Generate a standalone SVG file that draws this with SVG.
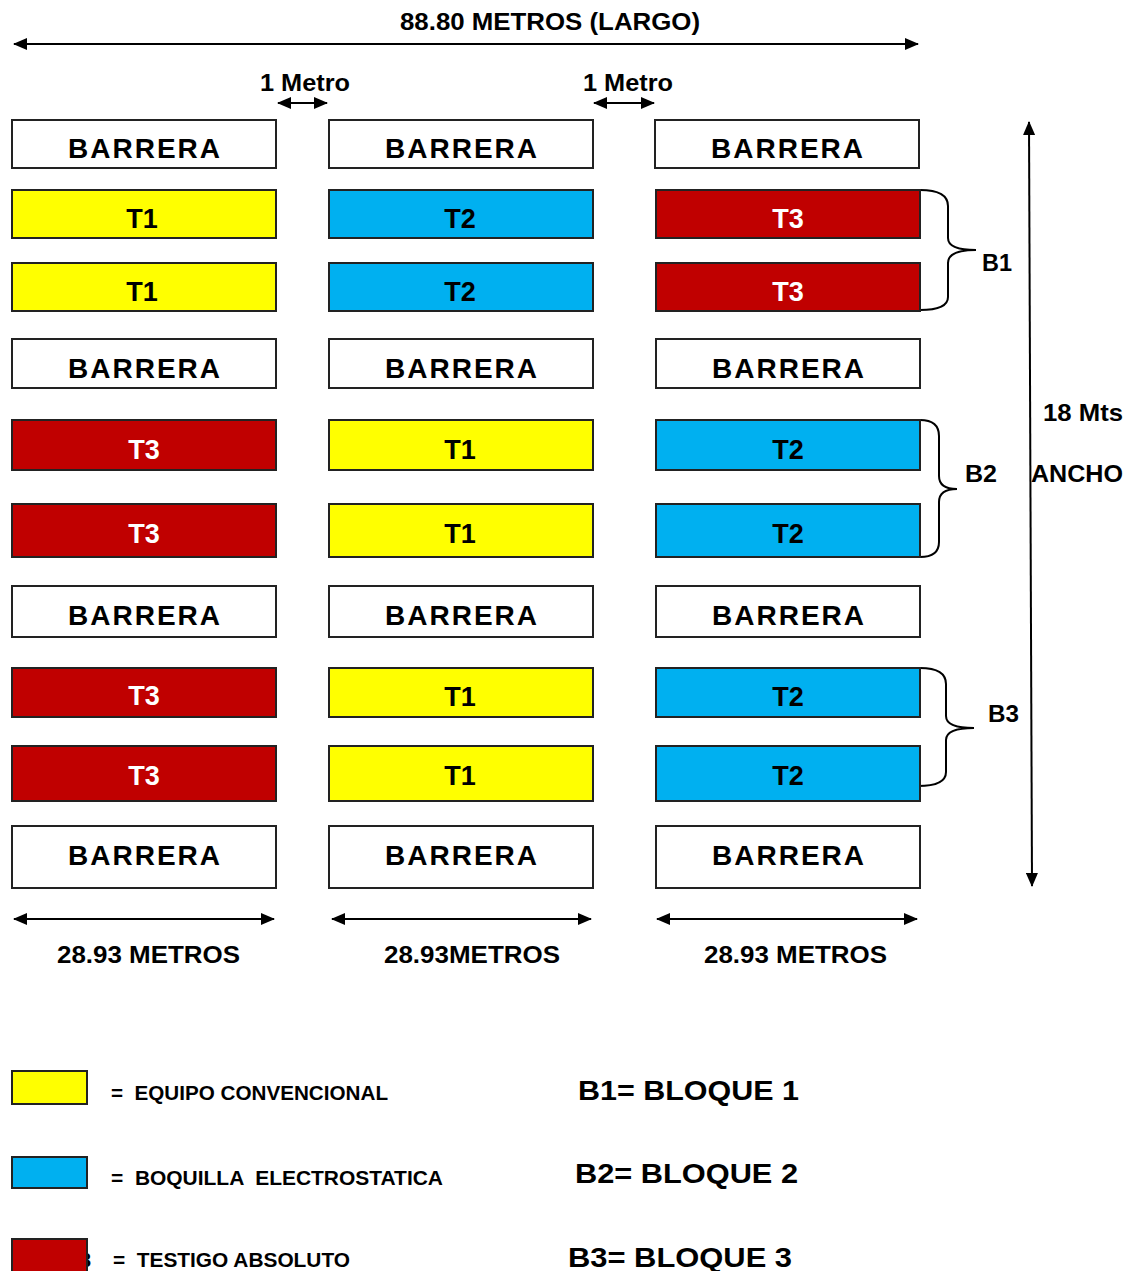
<svg xmlns="http://www.w3.org/2000/svg" width="1132" height="1271" viewBox="0 0 1132 1271">
<defs>
<marker id="ah" viewBox="0 0 14 12" refX="13" refY="6" markerWidth="14" markerHeight="12" markerUnits="userSpaceOnUse" orient="auto-start-reverse">
<path d="M0,0 L14,6 L0,12 Z" fill="#000"/>
</marker>
<style>
text{font-family:"Liberation Sans",Arial,sans-serif;font-weight:bold;fill:#000}
.bx{stroke:#222;stroke-width:2}
.bar{fill:#fff}
.y{fill:#FFFF00}
.b{fill:#00B0F0}
.r{fill:#C00000}
.bt{font-size:28px;letter-spacing:2px;text-anchor:middle}
.tt{font-size:27px;text-anchor:middle}
.w{fill:#fff}
.lbl{font-size:24px}
.ln{stroke:#000;stroke-width:2;fill:none}
.br{stroke:#000;stroke-width:2;fill:none}
.lg{font-size:20px}
.bq{font-size:28px}
</style>
</defs>

<g id="connectors">
<line class="ln" x1="14" y1="44" x2="918" y2="44" marker-start="url(#ah)" marker-end="url(#ah)"/>
<line class="ln" x1="278" y1="103" x2="327" y2="103" marker-start="url(#ah)" marker-end="url(#ah)"/>
<line class="ln" x1="594" y1="103" x2="654" y2="103" marker-start="url(#ah)" marker-end="url(#ah)"/>
<line class="ln" x1="1029" y1="122" x2="1032" y2="886" marker-start="url(#ah)" marker-end="url(#ah)"/>
<line class="ln" x1="14" y1="919" x2="274" y2="919" marker-start="url(#ah)" marker-end="url(#ah)"/>
<line class="ln" x1="332" y1="919" x2="591" y2="919" marker-start="url(#ah)" marker-end="url(#ah)"/>
<line class="ln" x1="657" y1="919" x2="917" y2="919" marker-start="url(#ah)" marker-end="url(#ah)"/>
<path class="br" d="M920,190 Q948,190 948,206 L948,238 Q948,250 976,250 Q948,250 948,263 L948,297 Q948,310 920,310"/>
<path class="br" d="M920,420 Q939,420 939,436 L939,476 Q939,489 957,489 Q939,489 939,502 L939,542 Q939,557 920,557"/>
<path class="br" d="M920,668 Q946,668 946,684 L946,716 Q946,728 974,728 Q946,728 946,740 L946,772 Q946,786 918,786"/>
</g>

<g id="dim-labels">
<text class="lbl" x="550" y="30" text-anchor="middle" textLength="300" lengthAdjust="spacingAndGlyphs">88.80 METROS (LARGO)</text>
<text class="lbl" x="260" y="91" textLength="90" lengthAdjust="spacingAndGlyphs">1 Metro</text>
<text class="lbl" x="583" y="91" textLength="90" lengthAdjust="spacingAndGlyphs">1 Metro</text>
<text class="lbl" x="982" y="271" textLength="30" lengthAdjust="spacingAndGlyphs">B1</text>
<text class="lbl" x="965" y="482" textLength="32" lengthAdjust="spacingAndGlyphs">B2</text>
<text class="lbl" x="988" y="722" textLength="31" lengthAdjust="spacingAndGlyphs">B3</text>
<text class="lbl" x="1043" y="421" textLength="80" lengthAdjust="spacingAndGlyphs">18 Mts</text>
<text class="lbl" x="1031" y="482" textLength="92" lengthAdjust="spacingAndGlyphs">ANCHO</text>
<text class="lbl" x="57" y="963" textLength="183" lengthAdjust="spacingAndGlyphs">28.93 METROS</text>
<text class="lbl" x="384" y="963" textLength="176" lengthAdjust="spacingAndGlyphs">28.93METROS</text>
<text class="lbl" x="704" y="963" textLength="183" lengthAdjust="spacingAndGlyphs">28.93 METROS</text>
</g>

<!-- Row 1 -->
<g id="r1c1"><rect class="bx bar" x="12" y="120" width="264" height="48"/><text class="bt" x="145" y="158">BARRERA</text></g>
<g id="r1c2"><rect class="bx bar" x="329" y="120" width="264" height="48"/><text class="bt" x="462" y="158">BARRERA</text></g>
<g id="r1c3"><rect class="bx bar" x="655" y="120" width="264" height="48"/><text class="bt" x="788" y="158">BARRERA</text></g>
<!-- Row 2 -->
<g id="r2c1"><rect class="bx y" x="12" y="190" width="264" height="48"/><text class="tt" x="142" y="228">T1</text></g>
<g id="r2c2"><rect class="bx b" x="329" y="190" width="264" height="48"/><text class="tt" x="460" y="228">T2</text></g>
<g id="r2c3"><rect class="bx r" x="656" y="190" width="264" height="48"/><text class="tt w" x="788" y="228">T3</text></g>
<!-- Row 3 -->
<g id="r3c1"><rect class="bx y" x="12" y="263" width="264" height="48"/><text class="tt" x="142" y="301">T1</text></g>
<g id="r3c2"><rect class="bx b" x="329" y="263" width="264" height="48"/><text class="tt" x="460" y="301">T2</text></g>
<g id="r3c3"><rect class="bx r" x="656" y="263" width="264" height="48"/><text class="tt w" x="788" y="301">T3</text></g>
<!-- Row 4 -->
<g id="r4c1"><rect class="bx bar" x="12" y="339" width="264" height="49"/><text class="bt" x="145" y="378">BARRERA</text></g>
<g id="r4c2"><rect class="bx bar" x="329" y="339" width="264" height="49"/><text class="bt" x="462" y="378">BARRERA</text></g>
<g id="r4c3"><rect class="bx bar" x="656" y="339" width="264" height="49"/><text class="bt" x="789" y="378">BARRERA</text></g>
<!-- Row 5 -->
<g id="r5c1"><rect class="bx r" x="12" y="420" width="264" height="50"/><text class="tt w" x="144" y="459">T3</text></g>
<g id="r5c2"><rect class="bx y" x="329" y="420" width="264" height="50"/><text class="tt" x="460" y="459">T1</text></g>
<g id="r5c3"><rect class="bx b" x="656" y="420" width="264" height="50"/><text class="tt" x="788" y="459">T2</text></g>
<!-- Row 6 -->
<g id="r6c1"><rect class="bx r" x="12" y="504" width="264" height="53"/><text class="tt w" x="144" y="543">T3</text></g>
<g id="r6c2"><rect class="bx y" x="329" y="504" width="264" height="53"/><text class="tt" x="460" y="543">T1</text></g>
<g id="r6c3"><rect class="bx b" x="656" y="504" width="264" height="53"/><text class="tt" x="788" y="543">T2</text></g>
<!-- Row 7 -->
<g id="r7c1"><rect class="bx bar" x="12" y="586" width="264" height="51"/><text class="bt" x="145" y="625">BARRERA</text></g>
<g id="r7c2"><rect class="bx bar" x="329" y="586" width="264" height="51"/><text class="bt" x="462" y="625">BARRERA</text></g>
<g id="r7c3"><rect class="bx bar" x="656" y="586" width="264" height="51"/><text class="bt" x="789" y="625">BARRERA</text></g>
<!-- Row 8 -->
<g id="r8c1"><rect class="bx r" x="12" y="668" width="264" height="49"/><text class="tt w" x="144" y="705">T3</text></g>
<g id="r8c2"><rect class="bx y" x="329" y="668" width="264" height="49"/><text class="tt" x="460" y="706">T1</text></g>
<g id="r8c3"><rect class="bx b" x="656" y="668" width="264" height="49"/><text class="tt" x="788" y="706">T2</text></g>
<!-- Row 9 -->
<g id="r9c1"><rect class="bx r" x="12" y="746" width="264" height="55"/><text class="tt w" x="144" y="785">T3</text></g>
<g id="r9c2"><rect class="bx y" x="329" y="746" width="264" height="55"/><text class="tt" x="460" y="785">T1</text></g>
<g id="r9c3"><rect class="bx b" x="656" y="746" width="264" height="55"/><text class="tt" x="788" y="785">T2</text></g>
<!-- Row 10 -->
<g id="r10c1"><rect class="bx bar" x="12" y="826" width="264" height="62"/><text class="bt" x="145" y="865">BARRERA</text></g>
<g id="r10c2"><rect class="bx bar" x="329" y="826" width="264" height="62"/><text class="bt" x="462" y="865">BARRERA</text></g>
<g id="r10c3"><rect class="bx bar" x="656" y="826" width="264" height="62"/><text class="bt" x="789" y="865">BARRERA</text></g>

<g id="legend">
<rect class="bx y" x="12" y="1071" width="75" height="33"/>
<text class="lg" x="111" y="1100" textLength="277" lengthAdjust="spacingAndGlyphs" xml:space="preserve">=  EQUIPO CONVENCIONAL</text>
<rect class="bx b" x="12" y="1157" width="75" height="31"/>
<text class="lg" x="111" y="1185" textLength="332" lengthAdjust="spacingAndGlyphs" xml:space="preserve">=  BOQUILLA  ELECTROSTATICA</text>
<text class="lg" x="80" y="1267">3</text>
<rect class="bx r" x="12" y="1239" width="75" height="40"/>
<text class="lg" x="113" y="1267" textLength="237" lengthAdjust="spacingAndGlyphs" xml:space="preserve">=  TESTIGO ABSOLUTO</text>
<text class="bq" x="578" y="1100" textLength="221" lengthAdjust="spacingAndGlyphs">B1= BLOQUE 1</text>
<text class="bq" x="575" y="1183" textLength="223" lengthAdjust="spacingAndGlyphs">B2= BLOQUE 2</text>
<text class="bq" x="568" y="1267" textLength="224" lengthAdjust="spacingAndGlyphs">B3= BLOQUE 3</text>
</g>
</svg>
